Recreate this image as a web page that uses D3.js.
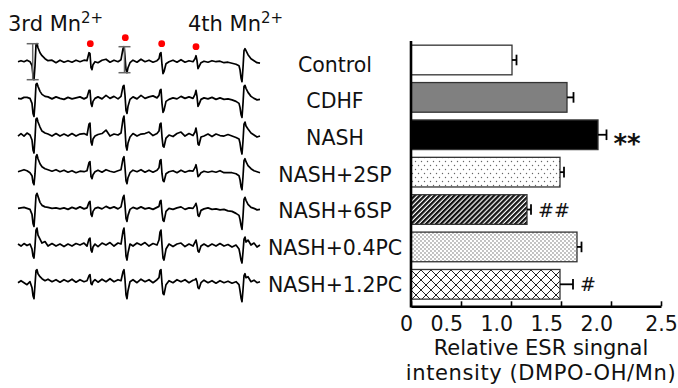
<!DOCTYPE html>
<html>
<head>
<meta charset="utf-8">
<script src="https://cdn.jsdelivr.net/npm/d3@7"></script>
<style>
  body { margin: 0; background: #fff; }
  svg { display: block; font-family: "DejaVu Sans", Verdana, sans-serif; }
</style>
</head>
<body>
<svg id="chart" width="678" height="388"></svg>
<script>
// groups, top to bottom
const groups = ["Control", "CDHF", "NASH", "NASH+2SP", "NASH+6SP", "NASH+0.4PC", "NASH+1.2PC"];

// relative ESR intensity (DMPO-OH/Mn) and error
const intensity = [1.01, 1.56, 1.87, 1.49, 1.16, 1.66, 1.49];
const errors = [0.045, 0.065, 0.085, 0.04, 0.04, 0.045, 0.13];
const sigMarks = ["", "", "**", "", "##", "", "#"];
const tickValues = [0, 0.5, 1.0, 1.5, 2.0, 2.5];

// spectrum sweep positions (arbitrary field units), shared by every trace
const field = [
  0, 3, 6, 9, 12, 14, 15, 16, 17, 18,
  19, 20, 22, 24, 27, 30, 34, 38, 42, 46,
  50, 54, 58, 62, 66, 69, 71, 72, 73, 74,
  75, 77, 80, 84, 88, 92, 96, 100, 103, 105,
  106, 107, 108, 109, 110, 112, 115, 119, 123, 127,
  131, 135, 139, 141, 142, 143, 144, 145, 146, 148,
  151, 155, 159, 163, 167, 171, 175, 177, 178, 179,
  180, 181, 183, 186, 190, 194, 198, 202, 206, 210,
  214, 218, 221, 222, 223, 224, 225, 226, 227, 228,
  230, 233, 236, 239, 242
];

// spectra (signal, arbitrary units)
const specControl = [
  0, 1, 0, 1.5, 0, -4, -14, -18, -4, 17,
  18, 14, 9, 6, 3, 1, 1.5, -1, 1.5, -0.5,
  1, -0.5, 1.5, 0, 1.5, 1, 9, 8, -6, -8,
  -3, 0, -1, 1.5, 2.5, -0.5, 1.5, 0, 2, 13,
  15, 5, -8, -11, -6, -1, 1.5, -0.5, 2.5, 0,
  1.5, -0.5, 1, 3, 8, 9, -3, -12, -10, -2,
  0, 1.5, -0.5, 2, -0.5, 1, 0, 3, 6, 1,
  -7, -5, -1, 0.5, -0.5, 1, 0, 0.5, -1, -0.5,
  -1.5, -2.5, -4, -8, -16, -20, -6, 11, 13, 11,
  7, 3, 1, -1, -1.5
];
const specCDHF = [
  0, -0.5, 1, 1, 0, -5, -15, -18, -5, 14,
  15, 12, 7, 4, 2, 1.5, -0.5, 1.5, 0, -1,
  1, -0.5, 0.5, 1.5, -0.5, 1, 8, 8, -5, -8,
  -3, 0, 1.5, -0.5, 3, 0, 2, -0.5, 2, 12,
  13, 3, -12, -15, -8, -1, 1.5, -0.5, 3, 0,
  1.5, 2.5, 0.5, 3, 8, 9, -5, -14, -12, -3,
  -1, 0.5, -0.5, 2, 0, 1.5, 0, 4, 8, 2,
  -8, -6, -1, 0.5, -0.5, 1, -1, 0.5, -1, -0.5,
  -1.5, -3, -5, -9, -16, -19, -5, 12, 13, 10,
  6, 2, 0, -1.5, -1
];
const specNASH = [
  -1, 1.5, -1, 2, 0, -5, -15, -18, -3, 16,
  17, 13, 8, 4, 2, 1, -1, 1.5, -1, 1,
  -1, 1.5, -1, 1, 1.5, 0, 11, 12, -7, -10,
  -4, -1, 0.5, 1.5, 5, -1, 1, 0, 2, 16,
  19, 6, -11, -15, -8, -2, 1.5, -1, 1, 1.5,
  3, -0.5, 1.5, 4, 11, 12, -2, -11, -12, -3,
  0, -1.5, 1.5, 3, -1, 1.5, -0.5, 3, 7, 1,
  -9, -10, -2, -1, 1, -1.5, 1, -0.5, -1, 0.5,
  -1, -2.5, -4, -8, -15, -19, -6, 11, 13, 9,
  6, 2, 0, -2, -1
];
const spec2SP = [
  0, 1, 2, 1, -1, -4, -11, -13, -2, 15,
  17, 13, 8, 5, 3, 2, 0.5, 2, 0, 1.5,
  -0.5, 1, -1, 0.5, 0, 1, 9, 10, -5, -7,
  -3, 0, 1.5, -0.5, 2, 0.5, -0.5, 1, 2, 13,
  15, 4, -9, -12, -6, -1, 1.5, 0, 2, -0.5,
  1.5, -0.5, 1.5, 4, 11, 12, -2, -9, -10, -2,
  0, 1, -1, 1.5, -0.5, 1, 0.5, 4, 7, 2,
  -5, -4, -1, 0.5, -0.5, 0.5, -0.5, 1, -1, -1,
  -1, -2, -4, -8, -15, -18, -5, 11, 13, 10,
  6, 3, 1, 0, -1
];
const spec6SP = [
  0, 0.5, 1, 0, -1, -6, -15, -18, -4, 13,
  15, 12, 6, 3, 1.5, 1, 0, 0.5, -0.5, 0.5,
  -1, 1, -0.5, 1.5, -0.5, 0.5, 6, 7, -6, -8,
  -3, 0, 1, -0.5, 2, 0, 1.5, -0.5, 1.5, 11,
  13, 3, -10, -13, -7, -1, 1, -0.5, 1.5, -0.5,
  0.5, -1, 1, 2, 7, 8, -4, -12, -13, -3,
  0, -1, 0.5, 1.5, -1, 0.5, 0, 3, 5, 1,
  -7, -8, -2, -0.5, 0.5, -1, -0.5, -1.5, -1, -2.5,
  -3, -5, -7, -11, -17, -21, -8, 9, 11, 8,
  4, 1, 0, -1.5, -1
];
const spec04PC = [
  1, -1, 1.5, -0.5, 1, -4, -11, -13, -1, 15,
  17, 10, 6, 2, 3.5, -1, 1.5, -1, 1, -1.5,
  1, -1, 1.5, 0, 2, -1, 6, 7, -5, -7,
  -2, 1, -1.5, 2, 0, 2.5, -1, 2, 1, 14,
  17, 5, -11, -15, -8, 1, -1, 2, 0, 2.5,
  -1, 1.5, 0, 5, 13, 15, 0, -13, -15, -4,
  1, -1.5, 1, 2, -1.5, 1, -1, 3, 5, 0,
  -6, -7, -1, 1, -1.5, 1, -1, 1.5, -1, 0.5,
  -2, 0, -4, -9, -15, -18, -7, 6, 8, 3,
  5, 0, 2, -2, 0
];
const spec12PC = [
  -1, 1, -1, -3, 0, -6, -14, -17, -3, 11,
  12, 8, 5, 3, 1, 2.5, 0, 2, -0.5, 2,
  0, 2.5, -0.5, 2, 0, 1, 6, 7, -2, -3,
  0, 2, -0.5, 2.5, 0, 3, 0, 2, 1, 10,
  12, 2, -13, -17, -9, 0, 2, -1, 2.5, 0,
  2, -1, 2, 4, 11, 12, -2, -12, -13, -3,
  1, -1, 2, 0, 2, -1, 1.5, 2, 3, 0,
  -6, -7, -1, 1.5, -1, 1, -1.5, 1, -1, 0.5,
  -1.5, 0, -3, -9, -16, -20, -8, 6, 8, 4,
  5, 0, 1.5, -1, 0
];
const spectra = [specControl, specCDHF, specNASH, spec2SP, spec6SP, spec04PC, spec12PC];

// Mn2+ and DMPO-OH line positions marked on the top spectrum
const bracketLines = [14.7, 106.5];
const dmpoLines = [72.3, 107.3, 143.7, 178];

const svg = d3.select("#chart");

// ---------- spectra ----------
const xField = d3.scaleLinear().domain([0, 242]).range([18, 260]);
const rowY = d3.scalePoint().domain(groups).range([61.7, 281.7]);
const amp = d3.scaleLinear().domain([-20, 20]).range([20, -20]);

const spec = svg.append("g");
groups.forEach((g, k) => {
  const line = d3.line()
    .x((d, i) => xField(field[i]))
    .y((d) => rowY(g) + amp(d));
  spec.append("path")
    .datum(spectra[k].slice(0, field.length))
    .attr("fill", "none")
    .attr("stroke", "#000")
    .attr("stroke-width", 1.7)
    .attr("stroke-linejoin", "round")
    .attr("d", line);
});

// peak-to-peak brackets on the first spectrum
const near = (pos, w) => specControl.filter((v, i) => Math.abs(field[i] - pos) <= w);
bracketLines.forEach((pos) => {
  const vals = near(pos, 6);
  const top = rowY(groups[0]) + amp(d3.max(vals));
  const bot = rowY(groups[0]) + amp(d3.min(vals));
  const x = xField(pos);
  const b = spec.append("g").attr("stroke", "#666").attr("stroke-width", 1.5);
  b.append("line").attr("x1", x).attr("x2", x).attr("y1", top).attr("y2", bot);
  b.append("line").attr("x1", x - 6).attr("x2", x + 6).attr("y1", top).attr("y2", top);
  b.append("line").attr("x1", x - 6).attr("x2", x + 6).attr("y1", bot).attr("y2", bot);
});

// red dots above the DMPO-OH quartet
spec.selectAll("circle.dot")
  .data(dmpoLines)
  .enter()
  .append("circle")
  .attr("class", "dot")
  .attr("cx", (d) => xField(d))
  .attr("cy", (d) => rowY(groups[0]) + amp(d3.max(near(d, 2.5))) - 9)
  .attr("r", 3.4)
  .attr("fill", "#f00");

// "3rd Mn2+" / "4th Mn2+"
[["3rd Mn", 8], ["4th Mn", 188]].forEach(([t, x]) => {
  const txt = svg.append("text").attr("x", x).attr("y", 31).attr("font-size", 21).attr("fill", "#111");
  txt.append("tspan").text(t);
  txt.append("tspan").attr("dy", -8).attr("font-size", 15).text("2+");
});

// group labels
svg.append("g")
  .selectAll("text")
  .data(groups)
  .enter()
  .append("text")
  .attr("x", 335)
  .attr("y", (d) => rowY(d) + 10)
  .attr("text-anchor", "middle")
  .attr("font-size", 20.5)
  .attr("fill", "#111")
  .text((d) => d);

// ---------- bar chart ----------
const xVal = d3.scaleLinear().domain([0, 2.5]).range([411, 661]);
const yBar = d3.scaleBand().domain(groups).range([41.3, 303]).paddingInner(0.207).paddingOuter(0.1035);

const defs = svg.append("defs");
const pSparse = defs.append("pattern").attr("id", "dotsSparse").attr("patternUnits", "userSpaceOnUse")
  .attr("width", 6).attr("height", 8);
pSparse.append("rect").attr("width", 6).attr("height", 8).attr("fill", "#fff");
pSparse.append("circle").attr("cx", 1.5).attr("cy", 1.5).attr("r", 0.7).attr("fill", "#666");
pSparse.append("circle").attr("cx", 4.5).attr("cy", 5.5).attr("r", 0.7).attr("fill", "#666");

const pDense = defs.append("pattern").attr("id", "dotsDense").attr("patternUnits", "userSpaceOnUse")
  .attr("width", 4).attr("height", 4);
pDense.append("rect").attr("width", 4).attr("height", 4).attr("fill", "#fff");
pDense.append("circle").attr("cx", 1).attr("cy", 1).attr("r", 0.65).attr("fill", "#555");
pDense.append("circle").attr("cx", 3).attr("cy", 3).attr("r", 0.65).attr("fill", "#555");

const pHatch = defs.append("pattern").attr("id", "hatch").attr("patternUnits", "userSpaceOnUse")
  .attr("width", 3.5).attr("height", 3.5).attr("patternTransform", "rotate(45)");
pHatch.append("rect").attr("width", 3.5).attr("height", 3.5).attr("fill", "#fff");
pHatch.append("rect").attr("width", 2.3).attr("height", 3.5).attr("fill", "#111");

const pCross = defs.append("pattern").attr("id", "cross").attr("patternUnits", "userSpaceOnUse")
  .attr("width", 10).attr("height", 10).attr("x", 411).attr("y", 0);
pCross.append("rect").attr("width", 10).attr("height", 10).attr("fill", "#fff");
pCross.append("path").attr("d", "M0,0L10,10M10,0L0,10").attr("stroke", "#222").attr("stroke-width", 1);

const fills = ["#fff", "#808080", "#000", "url(#dotsSparse)", "url(#hatch)", "url(#dotsDense)", "url(#cross)"];

const bars = svg.append("g");
bars.selectAll("rect")
  .data(groups)
  .enter()
  .append("rect")
  .attr("x", xVal(0))
  .attr("y", (d) => yBar(d))
  .attr("width", (d, i) => xVal(intensity[i]) - xVal(0))
  .attr("height", yBar.bandwidth())
  .attr("fill", (d, i) => fills[i])
  .attr("stroke", "#333")
  .attr("stroke-width", 1.3);

// error bars
const eb = svg.append("g").attr("stroke", "#000").attr("stroke-width", 1.8);
groups.forEach((g, i) => {
  const cy = yBar(g) + yBar.bandwidth() / 2;
  const x1 = xVal(intensity[i]), x2 = xVal(intensity[i] + errors[i]);
  eb.append("line").attr("x1", x1).attr("x2", x2).attr("y1", cy).attr("y2", cy);
  eb.append("line").attr("x1", x2).attr("x2", x2).attr("y1", cy - 5.3).attr("y2", cy + 5.3);
});

// significance marks
svg.append("g")
  .selectAll("text")
  .data(groups)
  .enter()
  .append("text")
  .attr("x", (d, i) => xVal(intensity[i] + errors[i]) + 7)
  .attr("y", (d, i) => yBar(d) + yBar.bandwidth() / 2 + (sigMarks[i].includes("*") ? 18 : 7))
  .attr("font-size", (d, i) => (sigMarks[i].includes("*") ? 26 : 19))
  .attr("font-weight", (d, i) => (sigMarks[i].includes("*") ? "bold" : "normal"))
  .attr("fill", "#111")
  .text((d, i) => sigMarks[i]);

// axes
svg.append("line")
  .attr("x1", xVal(0)).attr("x2", xVal(0))
  .attr("y1", 41).attr("y2", 307.5)
  .attr("stroke", "#000").attr("stroke-width", 2.6);

const axis = svg.append("g")
  .attr("transform", "translate(0,306.3)")
  .call(
    d3.axisBottom(xVal)
      .tickValues(tickValues)
      .tickSize(-5)
      .tickSizeOuter(0)
      .tickFormat((d) => (d === 0 ? "0" : d3.format(".1f")(d)))
  );
axis.select(".domain").attr("stroke", "#000").attr("stroke-width", 2.6);
axis.selectAll(".tick line").attr("stroke", "#000").attr("stroke-width", 1.6);
const lastTick = tickValues[tickValues.length - 1];
axis.selectAll(".tick text")
  .attr("y", 25)
  .attr("dy", null)
  .attr("x", (d) => (d === lastTick ? 0 : 1.5))
  .attr("text-anchor", (d) => (d === lastTick ? "middle" : "end"))
  .attr("font-size", 20.5)
  .attr("font-family", "DejaVu Sans, Verdana, sans-serif")
  .attr("fill", "#111");

// axis title, two lines
svg.append("text")
  .attr("x", 541).attr("y", 355)
  .attr("text-anchor", "middle")
  .attr("font-size", 21)
  .attr("fill", "#111")
  .text("Relative ESR singnal");
svg.append("text")
  .attr("x", 541).attr("y", 380)
  .attr("text-anchor", "middle")
  .attr("font-size", 21)
  .attr("letter-spacing", 0.6)
  .attr("fill", "#111")
  .text("intensity (DMPO-OH/Mn)");
</script>
</body>
</html>
